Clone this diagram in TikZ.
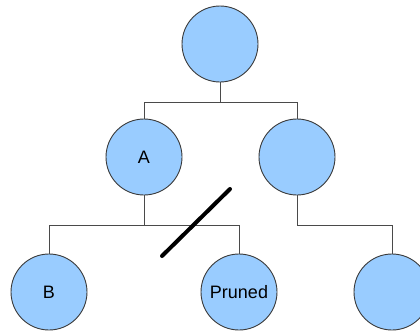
\documentclass[tikz,border=0pt]{standalone}
\usepackage{fontspec}
\setmainfont{Liberation Sans}
\definecolor{nodefill}{HTML}{99CCFF}
\definecolor{nodeline}{HTML}{3A3A3A}
\definecolor{edgeline}{HTML}{4A4A4A}
\tikzset{
  treenode/.style={circle, draw=nodeline, fill=nodefill, line width=0.9pt, minimum size=76pt, inner sep=0pt, font=\fontsize{18}{21}\selectfont},
  edge/.style={draw=edgeline, line width=0.9pt},
  prune/.style={draw=black, line width=4pt, line cap=round}
}
\begin{document}
\begin{tikzpicture}[x=1pt,y=-1pt]
\useasboundingbox (0,0) rectangle (420,330);
\node[treenode] (root) at (220,44) {};
\node[treenode] (A) at (144,157) {A};
\node[treenode] (R) at (297,157) {};
\node[treenode] (B) at (49,292) {B};
\node[treenode] (P) at (239,292) {Pruned};
\node[treenode] (RC) at (392,292) {};
\coordinate (j1) at (220,102);
\coordinate (j2) at (144,225);
\coordinate (j3) at (297,225);
\draw[edge] (root.south) -- (j1) -| (A.north);
\draw[edge] (j1) -| (R.north);
\draw[edge] (A.south) -- (j2) -| (B.north);
\draw[edge] (j2) -| (P.north);
\draw[edge] (R.south) -- (j3) -| (RC.north);
\coordinate (s1) at (162,256);
\coordinate (s2) at (230,189);
\draw[prune] (s1) -- (s2);
\end{tikzpicture}
\end{document}
